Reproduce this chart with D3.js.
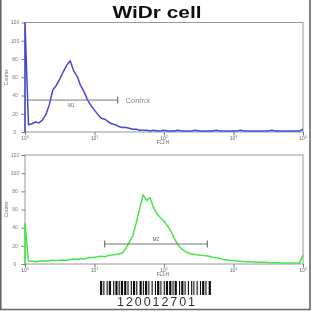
<!DOCTYPE html>
<html>
<head>
<meta charset="utf-8">
<script src="https://cdn.jsdelivr.net/npm/d3@7"></script>
<style>
  html, body { margin: 0; padding: 0; background: #fff; }
  svg { display: block; font-family: "Liberation Sans", Arial, sans-serif; }
</style>
</head>
<body>
<div id="chart"></div>
<script>
// channel step on the log axis (decades)
const step = 0.05;

// control (top) histogram counts, one per channel
const controlCounts = [120, 8, 9, 11, 10, 13, 19, 30, 46, 51, 58, 66, 73, 78, 67, 61, 51, 44, 35, 29,
  24, 19, 15, 14, 11, 9, 8, 6, 5, 5, 4, 3, 3, 2, 2, 2, 1, 2, 1, 1,
  2, 1, 1, 1, 2, 1, 1, 1, 1, 2, 1, 1, 1, 1, 1, 2, 1, 1, 1, 1,
  1, 1, 2, 1, 1, 1, 1, 1, 1, 1, 1, 2, 1, 1, 1, 1, 1, 1, 1, 1, 3];

// stained sample (bottom) histogram counts
const sampleCounts = [45, 3, 3, 2.5, 3, 3.5, 3, 3.5, 4, 3.5, 4, 4.5, 4, 5, 5.5, 5, 6, 5.5, 6.5, 7,
  7.5, 8, 8.5, 8, 9.5, 10, 10.5, 11, 12, 17, 24, 31, 45, 61, 76, 70, 73, 62, 55, 51,
  47, 42, 36, 28, 21, 17, 14, 12, 11, 10.5, 10, 9.5, 9, 8.5, 7.5, 7, 6, 5, 4.5, 4,
  3.7, 3.3, 3, 2.8, 2.6, 2.4, 2.2, 2, 2, 1.8, 1.6, 1.5, 1.4, 1.3, 1.2, 1.1, 1, 1, 1, 1, 10];

const yTicks = [0, 20, 40, 60, 80, 100, 120];
const xTicks = [1, 10, 100, 1000, 10000];
const xTickLabels = ["0", "1", "2", "3", "4"];

// marker gates: [from, to, level] in FL1-H units / counts
const controlGate = { name: "M1", from: 1, to: 21.5, level: 35 };
const sampleGate = { name: "M2", from: 14, to: 420, level: 22 };

const barcodeWidths = [2,1,1,2,1,1,2,2,1,1,2,1,1,1,2,1,2,1,1,2,1,1,2,1,1,2,2,1,1,1,2,1,1,2,1,2,1,1,2,1,
  1,2,1,1,2,1,2,1,1,1,2,2,1,1,2,1,1,2,1,2,1,1,1,2,1,2,1,1,2,1,1,2,2,1];
const barcodeText = "120012701";

const W = 312, H = 312;
const svg = d3.select("#chart").append("svg").attr("width", W).attr("height", H);

const defs = svg.append("defs");
defs.append("filter").attr("id", "soft")
  .append("feGaussianBlur").attr("stdDeviation", 0.4);

svg.append("rect").attr("width", W).attr("height", H).attr("fill", "#fff");

const root = svg.append("g").attr("filter", "url(#soft)");

// outer border (left, right, bottom)
root.append("path")
  .attr("d", `M0.8,0 V309.5 H310 V0`)
  .attr("fill", "none").attr("stroke", "#666").attr("stroke-width", 1.6);

root.append("text")
  .attr("x", 157).attr("y", 17.5)
  .attr("text-anchor", "middle")
  .attr("font-size", 16).attr("font-weight", "bold")
  .attr("textLength", 89).attr("lengthAdjust", "spacingAndGlyphs")
  .attr("fill", "#111")
  .text("WiDr cell");

const x = d3.scaleLog().domain([1, 10000]).range([25, 303]);

function panel(top, bottom, counts, color, gate, gateLabelBelow, extraText, clipId) {
  const y = d3.scaleLinear().domain([0, 120]).range([bottom, top]);
  const g = root.append("g");

  // frame
  g.append("rect")
    .attr("x", x.range()[0]).attr("y", top)
    .attr("width", x.range()[1] - x.range()[0]).attr("height", bottom - top)
    .attr("fill", "none").attr("stroke", "#999").attr("stroke-width", 1);

  // y axis with minor ticks
  const yAxis = g.append("g").attr("transform", `translate(${x.range()[0]},0)`);
  yAxis.call(d3.axisLeft(y).tickValues(d3.range(0, 121, 4)).tickSize(1.8).tickFormat(""));
  yAxis.call(d3.axisLeft(y).tickValues(yTicks).tickSize(3.5).tickFormat(""));
  yAxis.selectAll(".domain").remove();
  yAxis.selectAll("line").attr("stroke", "#777");
  yAxis.selectAll(".ylab").data(yTicks).enter().append("text")
    .attr("class", "ylab")
    .attr("x", -10).attr("y", d => y(d) + 1.8)
    .attr("text-anchor", "middle")
    .attr("font-size", 5).attr("fill", "#777")
    .text(d => d);

  // x axis, log minor ticks
  const minor = [];
  for (let e = 0; e < 4; e++) for (let k = 2; k < 10; k++) minor.push(k * Math.pow(10, e));
  const xAxis = g.append("g").attr("transform", `translate(0,${bottom})`);
  xAxis.call(d3.axisBottom(x).tickValues(minor).tickSize(1.8).tickFormat(""));
  xAxis.call(d3.axisBottom(x).tickValues(xTicks).tickSize(3.5).tickFormat(""));
  xAxis.selectAll(".domain").remove();
  xAxis.selectAll("line").attr("stroke", "#777");
  const xl = xAxis.selectAll(".xlab").data(xTicks).enter().append("text")
    .attr("class", "xlab")
    .attr("x", d => x(d)).attr("y", 8)
    .attr("text-anchor", "middle")
    .attr("font-size", 5).attr("fill", "#666");
  xl.append("tspan").text("10");
  xl.append("tspan").attr("dy", -2).attr("font-size", 3.5).text((d, i) => xTickLabels[i]);

  g.append("text")
    .attr("x", 163).attr("y", bottom + 12)
    .attr("text-anchor", "middle")
    .attr("font-size", 4.5).attr("fill", "#666")
    .text("FL1-H");

  g.append("text")
    .attr("transform", `translate(7.5,${(top + bottom) / 2}) rotate(-90)`)
    .attr("text-anchor", "middle")
    .attr("font-size", 5).attr("fill", "#777")
    .text("Counts");

  // histogram
  defs.append("clipPath").attr("id", clipId)
    .append("rect").attr("x", 24).attr("y", top).attr("width", 281).attr("height", bottom - top + 1);
  const pts = [[1, 0]].concat(counts.map((c, i) => [Math.pow(10, i * step), c]));
  g.append("path")
    .datum(pts)
    .attr("clip-path", `url(#${clipId})`)
    .attr("fill", "none")
    .attr("stroke", color)
    .attr("stroke-width", 1.5)
    .attr("stroke-linejoin", "round")
    .attr("d", d3.line().x(d => x(d[0])).y(d => y(d[1])));

  // gate marker
  const gy = y(gate.level);
  g.append("line")
    .attr("x1", x(gate.from)).attr("x2", x(gate.to))
    .attr("y1", gy).attr("y2", gy)
    .attr("stroke", "#777").attr("stroke-width", 1);
  [gate.from, gate.to].forEach(v => {
    if (v > 1) {
      g.append("line")
        .attr("x1", x(v)).attr("x2", x(v))
        .attr("y1", gy - 3.5).attr("y2", gy + 3.5)
        .attr("stroke", "#777").attr("stroke-width", 1.2);
    }
  });
  const mid = Math.sqrt(gate.from * gate.to);
  g.append("text")
    .attr("x", x(mid)).attr("y", gateLabelBelow ? gy + 7 : gy - 3)
    .attr("text-anchor", "middle")
    .attr("font-size", 4.5).attr("fill", "#555")
    .text(gate.name);

  if (extraText) {
    g.append("text")
      .attr("x", x(gate.to) + 8).attr("y", gy + 2.5)
      .attr("font-size", 7.5).attr("fill", "#888")
      .text(extraText);
  }
}

panel(22.5, 132, controlCounts, "#4646d6", controlGate, true, "Control", "clipTop");
panel(155, 264, sampleCounts, "#45e645", sampleGate, false, null, "clipBottom");

// barcode
const bc = root.append("g");
const totalUnits = d3.sum(barcodeWidths);
const bx = d3.scaleLinear().domain([0, totalUnits]).range([100, 212]);
let acc = 0;
barcodeWidths.forEach((w, i) => {
  if (i % 2 === 0) {
    bc.append("rect")
      .attr("x", bx(acc)).attr("y", 281)
      .attr("width", bx(acc + w) - bx(acc)).attr("height", 14)
      .attr("fill", "#111");
  }
  acc += w;
});
bc.append("text")
  .attr("x", 156).attr("y", 306)
  .attr("text-anchor", "middle")
  .attr("font-size", 12.5)
  .attr("textLength", 78).attr("lengthAdjust", "spacing")
  .attr("fill", "#333")
  .text(barcodeText);
</script>
</body>
</html>
